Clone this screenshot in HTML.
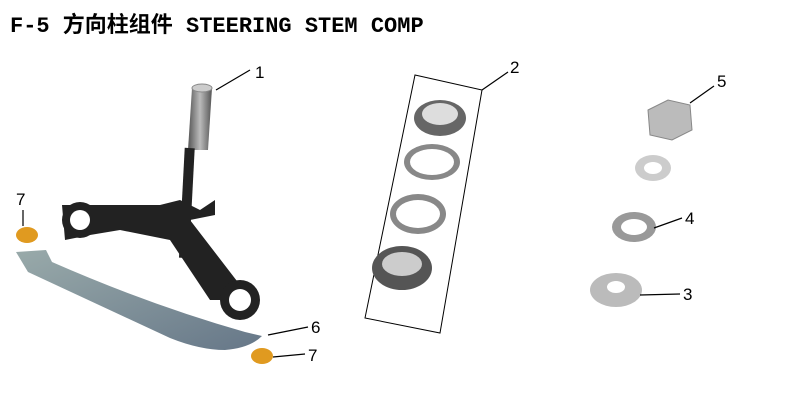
<!DOCTYPE html>
<html><head><meta charset="utf-8"><style>
html,body{margin:0;padding:0;background:#fff;}
svg{display:block}
text{font-family:"Liberation Sans","Noto Sans CJK SC",sans-serif;}
</style></head><body>
<svg width="802" height="414" viewBox="0 0 802 414" xmlns="http://www.w3.org/2000/svg">
<text x="10" y="32" font-size="22" font-weight="bold" fill="#000" style="font-family:'Liberation Mono','Noto Sans CJK SC',monospace">F-5 方向柱组件 STEERING STEM COMP</text>
<defs>
<linearGradient id="g1" x1="0" x2="1"><stop offset="0" stop-color="#555"/><stop offset=".5" stop-color="#bbb"/><stop offset="1" stop-color="#555"/></linearGradient>
<linearGradient id="sh" x1="0" x2="1" y1="0" y2="1"><stop offset="0" stop-color="#9aa"/><stop offset="1" stop-color="#678"/></linearGradient>
</defs>
<path d="M192 88 L212 88 L208 150 L188 150 Z" fill="url(#g1)"/>
<ellipse cx="202" cy="88" rx="10" ry="4" fill="#ccc" stroke="#888"/>
<rect x="182" y="148" width="10" height="110" fill="#222" transform="rotate(3 187 200)"/>
<path d="M62 205 L160 205 L180 200 L200 210 L215 200 L215 215 L190 220 L240 285 L240 300 L210 300 L190 270 L170 240 L120 230 L90 235 L65 240 Z" fill="#222"/>
<circle cx="80" cy="220" r="18" fill="#222"/><circle cx="80" cy="220" r="10" fill="#fff"/>
<circle cx="240" cy="300" r="20" fill="#222"/><circle cx="240" cy="300" r="11" fill="#fff"/>
<path d="M16 252 L46 250 L52 262 Q150 305 245 332 L262 336 Q250 348 225 350 Q200 350 170 338 L28 272 Z" fill="url(#sh)"/>
<ellipse cx="27" cy="235" rx="11" ry="8" fill="#e09a20"/>
<ellipse cx="262" cy="356" rx="11" ry="8" fill="#e09a20"/>
<g stroke="#000" stroke-width="1.2">
<line x1="216" y1="90" x2="250" y2="70"/>
<line x1="23" y1="210" x2="23" y2="226"/>
<line x1="268" y1="335" x2="308" y2="327"/>
<line x1="273" y1="357" x2="305" y2="354"/>
</g>
<text x="255" y="78" font-size="17">1</text>
<text x="16" y="205" font-size="17">7</text>
<text x="311" y="333" font-size="17">6</text>
<text x="308" y="361" font-size="17">7</text>
<polygon points="415,75 482,90 440,333 365,318" fill="none" stroke="#000" stroke-width="1"/>
<line x1="482" y1="90" x2="508" y2="72" stroke="#000" stroke-width="1.2"/>
<text x="510" y="73" font-size="17">2</text>
<g>
<ellipse cx="440" cy="118" rx="26" ry="18" fill="#666"/><ellipse cx="440" cy="114" rx="18" ry="11" fill="#ddd"/>
<ellipse cx="432" cy="162" rx="28" ry="18" fill="#888"/><ellipse cx="432" cy="162" rx="22" ry="13" fill="#fff"/>
<ellipse cx="418" cy="214" rx="28" ry="20" fill="#888"/><ellipse cx="418" cy="214" rx="22" ry="14" fill="#fff"/>
<ellipse cx="402" cy="268" rx="30" ry="22" fill="#555"/><ellipse cx="402" cy="264" rx="20" ry="12" fill="#ccc"/>
</g>
<polygon points="648,110 668,100 690,105 692,130 672,140 650,135" fill="#bbb" stroke="#888"/>
<ellipse cx="653" cy="168" rx="18" ry="13" fill="#ccc"/><ellipse cx="653" cy="168" rx="9" ry="6" fill="#fff"/>
<ellipse cx="634" cy="227" rx="22" ry="15" fill="#999"/><ellipse cx="634" cy="227" rx="13" ry="8" fill="#fff"/>
<ellipse cx="616" cy="290" rx="26" ry="17" fill="#bbb"/><ellipse cx="616" cy="287" rx="9" ry="6" fill="#fff"/>
<g stroke="#000" stroke-width="1.2">
<line x1="690" y1="103" x2="714" y2="86"/>
<line x1="654" y1="228" x2="682" y2="218"/>
<line x1="640" y1="295" x2="680" y2="294"/>
</g>
<text x="717" y="87" font-size="17">5</text>
<text x="685" y="224" font-size="17">4</text>
<text x="683" y="300" font-size="17">3</text>
</svg>
</body></html>
